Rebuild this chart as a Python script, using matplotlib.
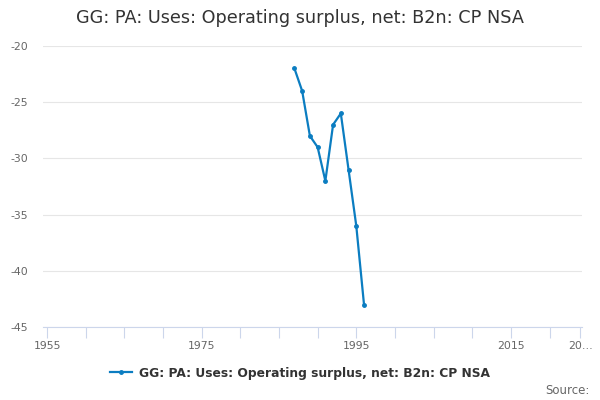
import numpy as np
import matplotlib.pyplot as plt

# Data
years = [1987, 1988, 1989, 1990, 1991, 1992, 1993, 1994, 1995, 1996]
values = [-22, -24, -28, -29, -32, -27, -26, -31, -36, -43]

series_name = "GG: PA: Uses: Operating surplus, net: B2n: CP NSA"
title = "GG: PA: Uses: Operating surplus, net: B2n: CP NSA"

x_label_years = [1955, 1975, 1995, 2015, 2024]
x_labels = ["1955", "1975", "1995", "2015", "20…"]
x_minor_years = list(range(1960, 2024, 5))
y_ticks = [-45, -40, -35, -30, -25, -20]

line_colour = "#0b7dc1"

fig = plt.figure(figsize=(6, 4), dpi=100)
ax = fig.add_axes([0.072, 0.1825, 0.898, 0.7025])

ax.plot(years, values, color=line_colour, linewidth=1.6,
        marker="o", markersize=2.5, label=series_name)

ax.set_xlim(1954.5, 2024.2)
ax.set_ylim(-45, -20)

# Grid and spines
ax.set_yticks(y_ticks)
ax.set_yticklabels([str(v) for v in y_ticks])
ax.yaxis.grid(True, color="#e6e6e6", linewidth=0.8)
ax.set_axisbelow(True)
for side in ["top", "right", "left"]:
    ax.spines[side].set_visible(False)
ax.spines["bottom"].set_color("#ccd6eb")
ax.spines["bottom"].set_linewidth(0.8)

ax.set_xticks(x_label_years)
ax.set_xticklabels(x_labels)
ax.set_xticks(x_minor_years, minor=True)
ax.tick_params(axis="x", which="both", length=8, width=0.8,
               color="#ccd6eb", labelsize=7.8, labelcolor="#666666", pad=2)
ax.tick_params(axis="y", length=0, labelsize=7.8, labelcolor="#666666", pad=11)

fig.text(0.5, 0.955, title, ha="center", va="center",
         fontsize=12.7, color="#333333")

leg = fig.legend(loc="center", bbox_to_anchor=(0.5, 0.067), frameon=False,
                 handlelength=1.8, handletextpad=0.5,
                 prop={"weight": "bold", "size": 8.8})
for text in leg.get_texts():
    text.set_color("#333333")

fig.text(0.982, 0.025, "Source:", ha="right", va="center",
         fontsize=8.5, color="#666666")

fig.savefig("out.png", dpi=100)
